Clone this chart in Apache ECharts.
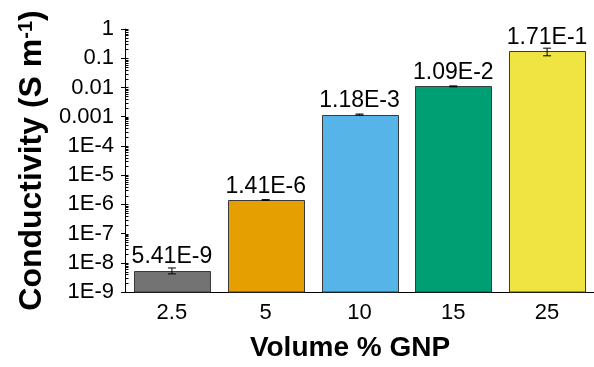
<!DOCTYPE html>
<html>
<head>
<meta charset="utf-8">
<script src="https://cdn.jsdelivr.net/npm/echarts@6/dist/echarts.min.js"></script>
<style>
html,body{margin:0;padding:0;background:#fff;}
#chart{width:594px;height:367px;}
</style>
</head>
<body>
<div id="chart"></div>
<script>
const categories = ['2.5', '5', '10', '15', '25'];
const conductivity = [5.41e-9, 1.41e-6, 1.18e-3, 1.09e-2, 1.71e-1];
const errors = [1.24e-9, 0.04e-6, 0.05e-3, 0.04e-2, 0.05];
const barLabels = ['5.41E-9', '1.41E-6', '1.18E-3', '1.09E-2', '1.71E-1'];
const barColors = ['#737373', '#E69F00', '#56B4E9', '#009E73', '#F0E442'];
const yTickLabels = ['1E-9', '1E-8', '1E-7', '1E-6', '1E-5', '1E-4', '0.001', '0.01', '0.1', '1'];
const minorMultipliers = [2, 3, 4, 5, 6, 7, 8, 9];
const decadeExponents = [-9, -8, -7, -6, -5, -4, -3, -2, -1, 0];
const yMin = 1e-9, yMax = 1;

const FONT = "'Liberation Sans', Arial, sans-serif";
const chart = echarts.init(document.getElementById('chart'), null, {renderer: 'canvas'});

const barData = conductivity.map((v, i) => [i, v, errors[i]]);

const tickData = [];
decadeExponents.forEach(function (e) {
  tickData.push([0, Math.pow(10, e), 1]);
  if (e < 0) minorMultipliers.forEach(function (m) { tickData.push([0, m * Math.pow(10, e), 0]); });
});

const option = {
  animation: false,
  backgroundColor: '#ffffff',
  grid: {left: 125, top: 29, width: 471, height: 266, containLabel: false},
  xAxis: [{
    type: 'category',
    data: categories,
    axisLine: {lineStyle: {color: '#000', width: 1}},
    axisTick: {alignWithLabel: true, length: 5, lineStyle: {color: '#000'}},
    axisLabel: {color: '#000', fontSize: 22, fontFamily: FONT, margin: 10},
    name: 'Volume % GNP',
    nameLocation: 'middle',
    nameGap: 42,
    nameTextStyle: {color: '#000', fontSize: 28, fontWeight: 'bold', fontFamily: FONT, padding: [0, 19, 0, 0]}
  }, {
    type: 'category',
    data: categories,
    position: 'bottom',
    axisLine: {show: false},
    axisTick: {length: 3, lineStyle: {color: '#000'}},
    axisLabel: {show: false}
  }],
  yAxis: {
    type: 'log',
    logBase: 10,
    min: yMin,
    max: yMax,
    interval: 1,
    axisLine: {show: true, lineStyle: {color: '#000', width: 1}},
    axisTick: {show: true, length: 4, lineStyle: {color: '#000'}},
    splitLine: {show: false},
    axisLabel: {
      color: '#000', fontSize: 22, fontFamily: FONT, margin: 11,
      formatter: function (v) {
        const idx = Math.round(Math.log10(v)) + 9;
        return yTickLabels[idx] !== undefined ? yTickLabels[idx] : '';
      }
    },
    name: '{t|Conductivity (S m}{s|-1}{t|)}',
    nameLocation: 'middle',
    nameGap: 77,
    nameTextStyle: {
      rich: {
        t: {fontSize: 32, fontWeight: 'bold', fontFamily: FONT, color: '#000', verticalAlign: 'bottom'},
        s: {fontSize: 20, fontWeight: 'bold', fontFamily: FONT, color: '#000', verticalAlign: 'top'}
      }
    }
  },
  series: [{
    type: 'custom',
    data: barData,
    z: 2,
    renderItem: function (params, api) {
      const i = api.value(0), v = api.value(1), e = api.value(2);
      const top = api.coord([i, v]);
      const base = api.coord([i, yMin]);
      const bw = api.size([1, 0])[0] * 0.81;
      const hi = api.coord([i, v + e]);
      const lo = api.coord([i, v - e]);
      const hw = 4;
      const ls = {stroke: '#000', lineWidth: 1};
      const x0 = Math.round(top[0] - bw / 2) + 0.5;
      const w = Math.round(bw);
      const y0 = Math.round(top[1]) + 0.5;
      return {type: 'group', children: [
        {type: 'rect', shape: {x: x0, y: y0, width: w, height: base[1] - y0},
          style: {fill: barColors[i], stroke: '#3a3a3a', lineWidth: 1}},
        {type: 'line', shape: {x1: hi[0], y1: hi[1], x2: lo[0], y2: lo[1]}, style: ls},
        {type: 'line', shape: {x1: hi[0] - hw, y1: hi[1], x2: hi[0] + hw, y2: hi[1]}, style: ls},
        {type: 'line', shape: {x1: lo[0] - hw, y1: lo[1], x2: lo[0] + hw, y2: lo[1]}, style: ls},
        {type: 'text', x: top[0], y: top[1] - 2,
          style: {text: barLabels[i], fill: '#000', font: '23px ' + FONT, align: 'center', verticalAlign: 'bottom'}}
      ]};
    }
  }, {
    type: 'custom',
    data: tickData,
    z: 4,
    silent: true,
    renderItem: function (params, api) {
      const y = Math.round(api.coord([0, api.value(1)])[1]) + 0.5;
      const x = params.coordSys.x + 0.5;
      const len = 3;
      return {type: 'line', shape: {x1: x, y1: y, x2: x + len, y2: y}, style: {stroke: '#000', lineWidth: 1}};
    }
  }]
};
chart.setOption(option);
</script>
</body>
</html>
